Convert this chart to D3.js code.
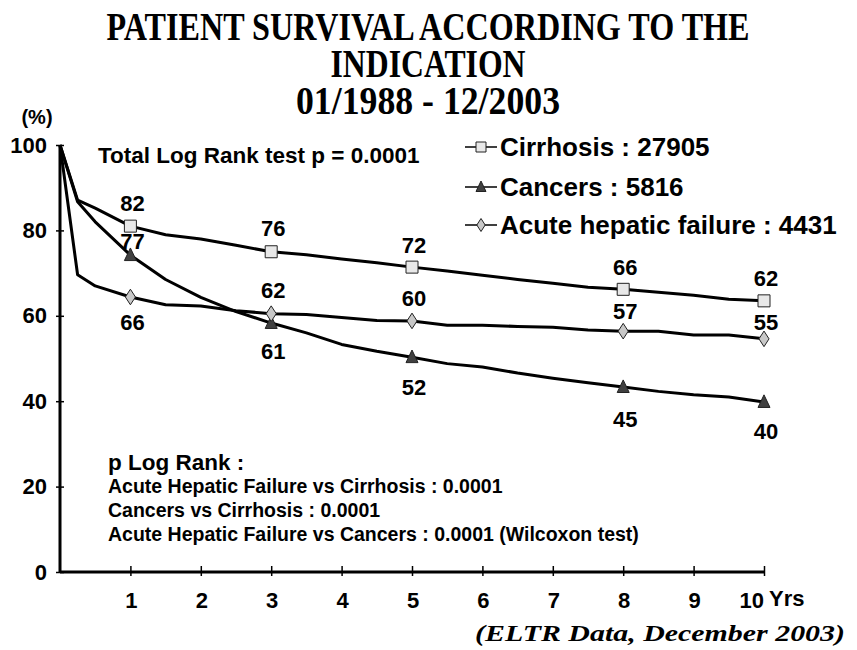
<!DOCTYPE html>
<html>
<head>
<meta charset="utf-8">
<script src="https://cdn.jsdelivr.net/npm/d3@7"></script>
<style>
  body { margin: 0; background: #fff; }
  text { font-family: Arial, "Liberation Sans", sans-serif; font-weight: bold; fill: #000; }
</style>
</head>
<body>
<svg id="chart" width="857" height="650"></svg>
<script>
// survival curves (years, % surviving)
const years = [0, 0.25, 0.5, 1, 1.5, 2, 2.5, 3, 3.5, 4, 4.5, 5, 5.5, 6, 6.5, 7, 7.5, 8, 8.5, 9, 9.5, 10];
const cirrhosis = [100, 87.1, 85.2, 81, 79, 78, 76.5, 75, 74.3, 73.3, 72.4, 71.4, 70.5, 69.5, 68.5, 67.6, 66.7, 66.2, 65.5, 64.8, 63.9, 63.5];
const cancers = [100, 86.7, 82, 74.2, 68.5, 64.3, 61, 58.3, 56, 53.3, 51.7, 50.3, 48.8, 48, 46.6, 45.4, 44.3, 43.3, 42.3, 41.5, 41, 39.8];
const acute = [100, 69.6, 67, 64.4, 62.6, 62.3, 61.2, 60.5, 60.3, 59.6, 58.9, 58.8, 57.8, 57.8, 57.5, 57.3, 56.7, 56.4, 56.4, 55.5, 55.5, 54.6];

const markerYears = [1, 3, 5, 8, 10];
const cirrhosisLabels = [82, 76, 72, 66, 62];
const cancersLabels = [77, 61, 52, 45, 40];
const acuteLabels = [66, 62, 60, 57, 55];

const seriesNames = ["Cirrhosis : 27905", "Cancers : 5816", "Acute hepatic failure : 4431"];
const xTicks = [1, 2, 3, 4, 5, 6, 7, 8, 9, 10];
const yTicks = [0, 20, 40, 60, 80, 100];

const titleLines = ["PATIENT SURVIVAL ACCORDING TO THE", "INDICATION", "01/1988 - 12/2003"];
const pRankLines = ["Acute Hepatic Failure vs Cirrhosis : 0.0001",
                    "Cancers vs Cirrhosis : 0.0001",
                    "Acute Hepatic Failure vs Cancers : 0.0001 (Wilcoxon test)"];

const svg = d3.select("#chart");
const x = d3.scaleLinear().domain([0, 10]).range([60, 764]);
const y = d3.scaleLinear().domain([0, 100]).range([572, 145]);

// title, squeezed sideways like the original
const titleY = [40, 77, 114];
const titleW = [643, 195, 264];
const sx = 0.8;
titleLines.forEach((t, i) => {
    svg.append("g").attr("transform", "translate(428," + titleY[i] + ") scale(" + sx + ",1)")
        .append("text").attr("text-anchor", "middle")
        .attr("textLength", titleW[i] / sx).attr("lengthAdjust", "spacingAndGlyphs")
        .style("font-family", "'Times New Roman', 'Liberation Serif', serif")
        .style("font-size", "40px").text(t);
});

svg.append("text").attr("x", 37).attr("y", 117).attr("text-anchor", "middle")
    .attr("dominant-baseline", "central").style("font-size", "20px").text("(%)");

// axes
const xAxis = svg.append("g").attr("transform", "translate(0," + y(0) + ")")
    .call(d3.axisBottom(x).tickValues(xTicks).tickSizeOuter(0).tickFormat(""));
xAxis.select(".domain").attr("stroke", "#000").attr("stroke-width", 3).attr("d", "M" + x(0) + ",0H" + x(10));
xAxis.selectAll(".tick line").attr("y1", 4).attr("y2", -6).attr("stroke", "#000").attr("stroke-width", 1.5);

const yAxis = svg.append("g").attr("transform", "translate(" + x(0) + ",0)")
    .call(d3.axisLeft(y).tickValues(yTicks).tickSizeOuter(0).tickFormat(""));
yAxis.select(".domain").attr("stroke", "#000").attr("stroke-width", 3).attr("d", "M0," + y(0) + "V" + y(100));
yAxis.selectAll(".tick line").attr("x1", -4).attr("x2", 4).attr("stroke", "#000").attr("stroke-width", 1.5);

// last label sits left of its tick to leave room for "Yrs"
svg.selectAll(".xlab").data(xTicks).enter().append("text")
    .attr("x", d => d == 10 ? x(d) : x(d) + 1)
    .attr("y", 600).attr("text-anchor", d => d == 10 ? "end" : "middle")
    .attr("dominant-baseline", "central").style("font-size", "22px").text(d => d);
svg.append("text").attr("x", 769).attr("y", 598).attr("dominant-baseline", "central")
    .style("font-size", "22px").text("Yrs");

svg.selectAll(".ylab").data(yTicks).enter().append("text")
    .attr("x", 47).attr("y", d => y(d)).attr("text-anchor", "end")
    .attr("dominant-baseline", "central").style("font-size", "22px").text(d => d);

// curves
const series = [
    {values: cirrhosis, labels: cirrhosisLabels, shape: "square", fill: "#e8e8e8", dy: [-23, -23, -22, -22, -22]},
    {values: cancers, labels: cancersLabels, shape: "triangle", fill: "#404040", dy: [-14, 28, 30, 32, 29]},
    {values: acute, labels: acuteLabels, shape: "diamond", fill: "#c8c8c8", dy: [25, -23, -22, -20, -16]}
];

function markerPath(shape, s) {
    if (shape == "square") return "M" + (-s / 2) + "," + (-s / 2) + "h" + s + "v" + s + "h" + (-s) + "Z";
    if (shape == "triangle") return "M0," + (-s * 0.6) + "L" + (s / 2) + "," + (s * 0.45) + "L" + (-s / 2) + "," + (s * 0.45) + "Z";
    return "M0," + (-s * 0.65) + "L" + (s * 0.42) + ",0L0," + (s * 0.65) + "L" + (-s * 0.42) + ",0Z";
}

const line = d3.line().x((d, i) => x(years[i])).y(d => y(d));

series.forEach(s => {
    svg.append("path").datum(s.values).attr("d", line)
        .attr("fill", "none").attr("stroke", "#000").attr("stroke-width", 3).attr("stroke-linejoin", "round");
});

series.forEach(s => {
    markerYears.forEach((yr, k) => {
        const v = s.values[years.indexOf(yr)];
        svg.append("path").attr("d", markerPath(s.shape, 12))
            .attr("transform", "translate(" + x(yr) + "," + y(v) + ")")
            .attr("fill", s.fill).attr("stroke", "#222").attr("stroke-width", 1);
        svg.append("text").attr("x", x(yr) + 2).attr("y", y(v) + s.dy[k])
            .attr("text-anchor", "middle").attr("dominant-baseline", "central")
            .style("font-size", "22px").text(s.labels[k]);
    });
});

// legend
const legendY = [147, 187, 225];
series.forEach((s, i) => {
    const g = svg.append("g").attr("transform", "translate(481," + legendY[i] + ")");
    g.append("line").attr("x1", -16).attr("x2", 16).attr("stroke", "#000").attr("stroke-width", 1.5);
    g.append("path").attr("d", markerPath(s.shape, 10)).attr("fill", s.fill).attr("stroke", "#222").attr("stroke-width", 1);
    g.append("text").attr("x", 19).attr("dominant-baseline", "central").style("font-size", "26px").text(seriesNames[i]);
});

// annotations
svg.append("text").attr("x", 98).attr("y", 155).attr("dominant-baseline", "central")
    .style("font-size", "22.5px").text("Total Log Rank test p = 0.0001");
svg.append("text").attr("x", 108).attr("y", 462).attr("dominant-baseline", "central")
    .style("font-size", "22.5px").text("p Log Rank :");
pRankLines.forEach((t, i) => {
    svg.append("text").attr("x", 108).attr("y", 486 + i * 24).attr("dominant-baseline", "central")
        .style("font-size", "19.5px").text(t);
});

svg.append("text").attr("x", 845).attr("y", 633).attr("text-anchor", "end").attr("dominant-baseline", "central")
    .attr("textLength", 370).attr("lengthAdjust", "spacingAndGlyphs")
    .style("font-family", "'Times New Roman', 'Liberation Serif', serif").style("font-style", "italic")
    .style("font-size", "24px").text("(ELTR Data, December 2003)");
</script>
</body>
</html>
